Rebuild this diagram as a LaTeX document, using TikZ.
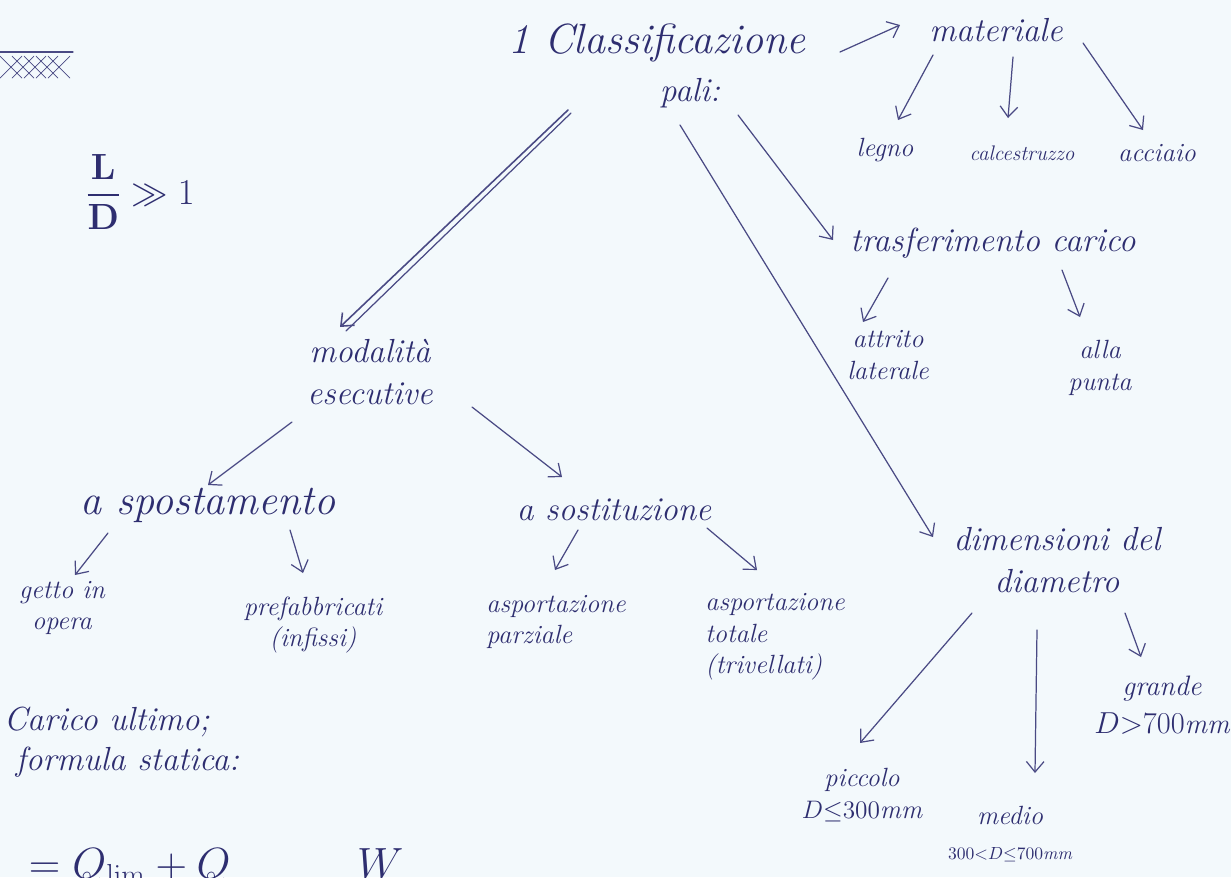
\documentclass[tikz,border=0pt]{standalone}
\usepackage{tikz}
\usetikzlibrary{arrows.meta,calc}
\usepackage{xcolor}
\definecolor{inkblue}{RGB}{46,46,112}
\definecolor{penline}{RGB}{74,74,132}
\definecolor{paper}{RGB}{243,249,252}
\usepackage{amsmath}

\begin{document}
\begin{tikzpicture}[x=0.02cm, y=-0.02cm]
    \tikzset{
      hw/.style={text=inkblue, font=\fontsize{19}{24}\selectfont\itshape, align=center, inner sep=2pt},
      hwbig/.style={hw, font=\fontsize{24}{28}\selectfont\itshape},
      hwsm/.style={hw, font=\fontsize{15}{18}\selectfont\itshape},
      hwxs/.style={hw, font=\fontsize{12}{14}\selectfont\itshape},
      pen/.style={color=penline, line width=0.7pt, line cap=round},
      arr/.style={pen, -{Straight Barb[length=6pt, width=10pt]}}
    }
    % Paper
    \fill[paper] (0,0) rectangle (1231,877);
    \clip (0,0) rectangle (1231,877);
    % Ground symbol
    \draw[pen] (0,52) -- (73,52);
    \foreach \hx in {0,12,...,48} {
      \draw[pen, line width=0.4pt] (\hx,56) -- (\hx+22,78);
      \draw[pen, line width=0.4pt] (\hx+22,56) -- (\hx,78);
    }
    \node[hw, font=\fontsize{22}{26}\selectfont] (ratio) at (140,192) {$\displaystyle\frac{\mathbf{L}}{\mathbf{D}}\gg 1$};
    % Classification tree
    \node[hwbig] (cls) at (657,43) {1 Classificazione};
    \node[hw] (pali) at (690,93) {pali:};
    \node[hw] (mat) at (996,30) {materiale};
    \node[hwsm] (legno) at (885,150) {legno};
    \node[hwxs] (calc) at (1022,153) {calcestruzzo};
    \node[hwsm] (acc) at (1157,153) {acciaio};
    \node[hw] (tras) at (993,243) {trasferimento carico};
    \node[hwsm] (attr) at (888,355) {attrito\\laterale};
    \node[hwsm] (punta) at (1100,368) {alla\\punta};
    \node[hw] (dim) at (1057,560) {dimensioni del\\diametro};
    \node[hwsm, font=\fontsize{16}{22}\selectfont\itshape] (grande) at (1162,705) {grande\\$D{>}700$mm};
    \node[hwsm] (piccolo) at (862,795) {piccolo\\$D{\leq}300$mm};
    \node[hwsm] (medio) at (1010,815) {medio};
    \node[hw, font=\fontsize{10}{12}\selectfont\itshape] (mediod) at (1010,855) {$300{<}D{\leq}700$mm};
    \node[hw] (mod) at (370,372) {modalità\\esecutive};
    \node[hwbig] (spost) at (208,505) {a spostamento};
    \node[hw] (sost) at (614,510) {a sostituzione};
    \node[hwsm] (getto) at (62,608) {getto in\\opera};
    \node[hwsm] (pref) at (313,625) {prefabbricati\\(infissi)};
    \node[hwsm, align=left] (aspp) at (556,622) {asportazione\\parziale};
    \node[hwsm, align=left] (aspt) at (775,637) {asportazione\\totale\\(trivellati)};
    % Ultimate load
    \node[hw, anchor=west] (carico) at (0,722) {Carico ultimo;};
    \node[hw, anchor=west] (formula) at (12,762) {formula statica:};
    \node[hwbig, anchor=west] (eq) at (25,868) {$=Q_{\lim}+Q\qquad\quad W$};
    % Arrows
    \draw[arr] ($(cls)+(183,9)$) -- ($(mat)+(-96,-5)$);
    \draw[arr] ($(mat)+(-63,25)$) -- ($(legno)+(13,-30)$);
    \draw[arr] ($(mat)+(17,27)$) -- ($(calc)+(-14,-35)$);
    \draw[arr] ($(mat)+(87,13)$) -- ($(acc)+(-14,-23)$);
    \draw[arr] ($(pali)+(48,22)$) -- ($(tras)+(-160,-3)$);
    \draw[arr] ($(pali)+(-10,32)$) -- ($(dim)+(-124,-23)$);
    \draw[arr] ($(tras)+(-105,35)$) -- ($(attr)+(-25,-33)$);
    \draw[arr] ($(tras)+(69,27)$) -- ($(punta)+(-20,-51)$);
    \draw[arr, line width=0.9pt] ($(cls)+(-89,67)$) -- ($(mod)+(-30,-45)$);
    \draw[pen] ($(cls)+(-86,70)$) -- ($(mod)+(-24,-41)$);
    \draw[arr] ($(mod)+(-78,50)$) -- ($(spost)+(0,-20)$);
    \draw[arr] ($(mod)+(102,35)$) -- ($(sost)+(-52,-33)$);
    \draw[arr] ($(spost)+(-100,28)$) -- ($(getto)+(13,-33)$);
    \draw[arr] ($(spost)+(82,25)$) -- ($(pref)+(-10,-52)$);
    \draw[arr] ($(sost)+(-36,20)$) -- ($(aspp)+(-1,-52)$);
    \draw[arr] ($(sost)+(93,18)$) -- ($(aspt)+(-18,-67)$);
    \draw[arr] ($(dim)+(-85,53)$) -- ($(piccolo)+(-2,-52)$);
    \draw[arr] ($(dim)+(-20,70)$) -- ($(medio)+(25,-42)$);
    \draw[arr] ($(dim)+(68,53)$) -- ($(grande)+(-21,-48)$);
\end{tikzpicture}
\end{document}
